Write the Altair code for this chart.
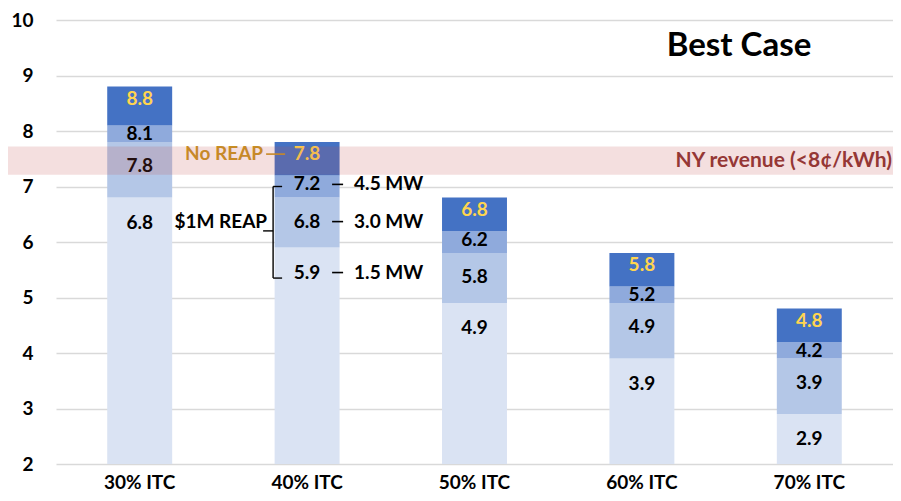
import altair as alt
import pandas as pd

# ---------------- data ----------------
categories = ["30% ITC", "40% ITC", "50% ITC", "60% ITC", "70% ITC"]
tier1 = [6.8, 5.9, 4.9, 3.9, 2.9]
tier2 = [7.8, 6.8, 5.8, 4.9, 3.9]
tier3 = [8.1, 7.2, 6.2, 5.2, 4.2]
tier4 = [8.8, 7.8, 6.8, 5.8, 4.8]
axis_min = 2
y_ticks = [2, 3, 4, 5, 6, 7, 8, 9, 10]
mw_labels = ["1.5 MW", "3.0 MW", "4.5 MW"]
ny_band = [7.21, 7.72]
ny_label = "NY revenue (<8¢/kWh)"
title_text = "Best Case"
reap_label = "$1M REAP"
no_reap_label = "No REAP"
annot_cat = "40% ITC"
brace_vals = [5.35, 6.2, 7.0]   # bottom, middle, top of brace
reap_label_y = 6.36

# ---------------- styles ----------------
FONT = "Lato"
FS = 19
colors = ["#DAE3F3", "#B4C7E7", "#8FAADC", "#4472C4"]
label_colors = ["#000000", "#000000", "#000000", "#FFD54F"]
label_dy = [25, 24, 9, 12]
W, H = 837, 444

tiers = [tier1, tier2, tier3, tier4]
rows = []
for i, c in enumerate(categories):
    prev = axis_min
    for j, t in enumerate(tiers):
        rows.append({"cat": c, "tier": j, "lo": prev, "hi": t[i], "lab": f"{t[i]:.1f}"})
        prev = t[i]
df = pd.DataFrame(rows)

xscale = alt.Scale(domain=categories, paddingInner=0.612, paddingOuter=0.306)
yscale = alt.Scale(domain=[2, 10], nice=False, zero=False)

X = alt.X("cat:N", scale=xscale, sort=categories,
          axis=alt.Axis(title=None, labelAngle=0, domain=False, ticks=False,
                        labelFont=FONT, labelFontSize=FS, labelFontWeight="bold",
                        labelColor="#000000", labelPadding=9))

bars = alt.Chart(df).mark_bar().encode(
    x=X,
    y=alt.Y("hi:Q", scale=yscale,
            axis=alt.Axis(title=None, values=y_ticks, format="d", domain=False, ticks=False,
                          grid=True, gridColor="#D9D9D9", gridWidth=1.3,
                          labelFont=FONT, labelFontSize=FS, labelFontWeight="bold",
                          labelColor="#000000", labelPadding=23)),
    y2="lo:Q",
    color=alt.Color("tier:O", scale=alt.Scale(domain=[0, 1, 2, 3], range=colors), legend=None),
)

layers = [bars]
for j in range(4):
    layers.append(
        alt.Chart(df[df.tier == j]).mark_text(
            font=FONT, fontSize=FS, fontWeight="bold", baseline="middle",
            dy=label_dy[j], color=label_colors[j]
        ).encode(x=alt.X("cat:N", scale=xscale, sort=categories),
                 y=alt.Y("hi:Q", scale=yscale), text="lab:N")
    )

# MW annotations next to the 40% bar
a40 = df[df.cat == annot_cat]
for j in range(3):
    d = a40[a40.tier == j].copy()
    d["mw"] = mw_labels[j]
    layers.append(
        alt.Chart(d).mark_text(font=FONT, fontSize=FS, fontWeight="bold", baseline="middle",
                               align="left", dx=47, dy=label_dy[j], color="#000000")
        .encode(x=alt.X("cat:N", scale=xscale, sort=categories),
                y=alt.Y("hi:Q", scale=yscale), text="mw:N")
    )
    layers.append(
        alt.Chart(d).mark_rule(color="#000000", strokeWidth=1.6, xOffset=25, x2Offset=36,
                               yOffset=label_dy[j], y2Offset=label_dy[j])
        .encode(x=alt.X("cat:N", scale=xscale, sort=categories), x2="cat:N",
                y=alt.Y("hi:Q", scale=yscale), y2="hi:Q")
    )

# No REAP annotation
d4 = a40[a40.tier == 3].copy()
d4["t"] = no_reap_label
layers.append(
    alt.Chart(d4).mark_text(font=FONT, fontSize=FS, fontWeight="bold", baseline="middle",
                            align="right", dx=-44, dy=label_dy[3], color="#C9961F")
    .encode(x=alt.X("cat:N", scale=xscale, sort=categories),
            y=alt.Y("hi:Q", scale=yscale), text="t:N")
)
layers.append(
    alt.Chart(d4).mark_rule(color="#C9961F", strokeWidth=1.6, xOffset=-41, x2Offset=-22,
                            yOffset=label_dy[3], y2Offset=label_dy[3])
    .encode(x=alt.X("cat:N", scale=xscale, sort=categories), x2="cat:N",
            y=alt.Y("hi:Q", scale=yscale), y2="hi:Q")
)

# brace for $1M REAP
bd = pd.DataFrame({"cat": [annot_cat], "b": [brace_vals[0]], "m": [brace_vals[1]],
                   "t": [brace_vals[2]], "ly": [reap_label_y], "lab": [reap_label]})
enc_x = alt.X("cat:N", scale=xscale, sort=categories)
layers.append(alt.Chart(bd).mark_rule(color="#000000", strokeWidth=1.4, xOffset=-34, x2Offset=-34)
              .encode(x=enc_x, x2="cat:N", y=alt.Y("t:Q", scale=yscale), y2="b:Q"))
for fld in ["t", "b"]:
    layers.append(alt.Chart(bd).mark_rule(color="#000000", strokeWidth=1.4, xOffset=-34, x2Offset=-25)
                  .encode(x=enc_x, x2="cat:N", y=alt.Y(f"{fld}:Q", scale=yscale), y2=f"{fld}:Q"))
layers.append(alt.Chart(bd).mark_rule(color="#000000", strokeWidth=1.4, xOffset=-44, x2Offset=-34)
              .encode(x=enc_x, x2="cat:N", y=alt.Y("m:Q", scale=yscale), y2="m:Q"))
layers.append(alt.Chart(bd).mark_text(font=FONT, fontSize=FS, fontWeight="bold", baseline="middle",
                                      align="right", dx=-40, color="#000000")
              .encode(x=enc_x, y=alt.Y("ly:Q", scale=yscale), text="lab:N"))

# NY revenue band (drawn over bars)
band_df = pd.DataFrame({"lo": [ny_band[0]], "hi": [ny_band[1]],
                        "mid": [(ny_band[0] + ny_band[1]) / 2], "lab": [ny_label]})
layers.append(alt.Chart(band_df).mark_rect(color="#C0504D", opacity=0.18)
              .encode(x=alt.value(-48), x2=alt.value(W),
                      y=alt.Y("lo:Q", scale=yscale), y2="hi:Q"))
layers.append(alt.Chart(band_df).mark_text(font=FONT, fontSize=21, fontWeight="bold",
                                           align="right", baseline="middle", color="#953735")
              .encode(x=alt.value(W - 1), y=alt.Y("mid:Q", scale=yscale), text="lab:N"))

# title inside plot
tdf = pd.DataFrame({"t": [title_text]})
layers.append(alt.Chart(tdf).mark_text(font=FONT, fontSize=33, fontWeight="bold",
                                       align="center", baseline="alphabetic", color="#000000")
              .encode(x=alt.value(683), y=alt.value(36), text="t:N"))

chart = alt.layer(*layers).properties(
    width=W, height=H,
    autosize=alt.AutoSizeParams(type="none"),
    padding={"left": 48, "top": 12, "right": 0, "bottom": 27},
).configure_view(stroke=None)

chart.save("out.html", embed_options={"renderer": "svg", "actions": False})
